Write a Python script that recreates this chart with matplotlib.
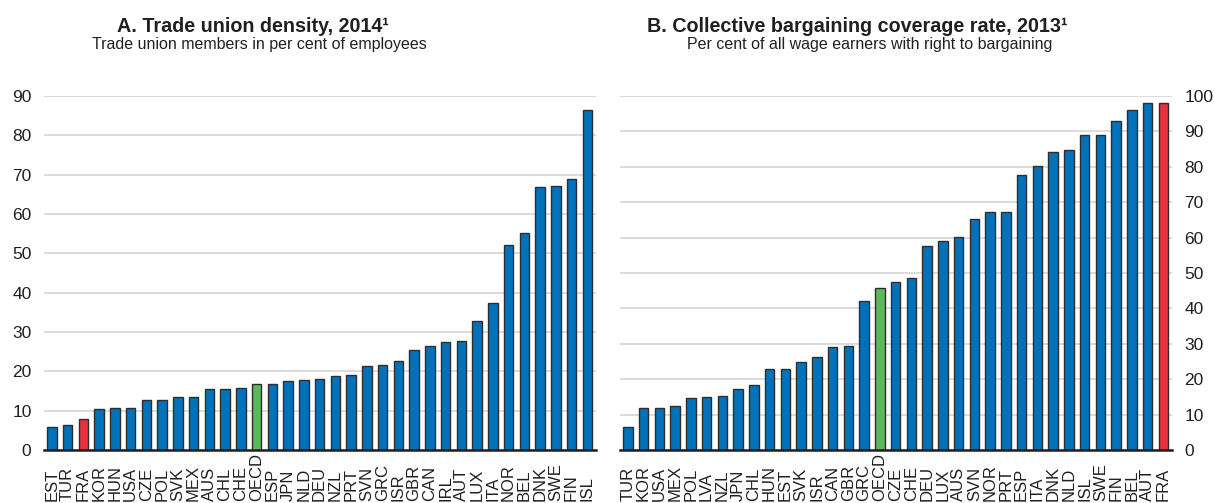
import matplotlib
matplotlib.use("Agg")
import matplotlib.pyplot as plt
import matplotlib.transforms as mtransforms

plt.rcParams['font.family'] = ['Liberation Sans', 'DejaVu Sans']

# Panel A: trade union density, 2014
density_countries = ["EST", "TUR", "FRA", "KOR", "HUN", "USA", "CZE", "POL", "SVK", "MEX",
                     "AUS", "CHL", "CHE", "OECD", "ESP", "JPN", "NLD", "DEU", "NZL", "PRT",
                     "SVN", "GRC", "ISR", "GBR", "CAN", "IRL", "AUT", "LUX", "ITA", "NOR",
                     "BEL", "DNK", "SWE", "FIN", "ISL"]
density_values = [5.8, 6.4, 7.8, 10.3, 10.6, 10.8, 12.7, 12.7, 13.4, 13.6,
                  15.5, 15.6, 15.8, 16.8, 16.9, 17.5, 17.7, 18.1, 18.7, 19.0,
                  21.4, 21.5, 22.7, 25.3, 26.4, 27.5, 27.8, 32.9, 37.3, 52.1,
                  55.2, 66.8, 67.2, 69.0, 86.4]

# Panel B: collective bargaining coverage rate, 2013
coverage_countries = ["TUR", "KOR", "USA", "MEX", "POL", "LVA", "NZL", "JPN", "CHL", "HUN",
                      "EST", "SVK", "ISR", "CAN", "GBR", "GRC", "OECD", "CZE", "CHE", "DEU",
                      "LUX", "AUS", "SVN", "NOR", "PRT", "ESP", "ITA", "DNK", "NLD", "ISL",
                      "SWE", "FIN", "BEL", "AUT", "FRA"]
coverage_values = [6.4, 11.8, 12.0, 12.3, 14.6, 15.0, 15.3, 17.1, 18.3, 23.0,
                   23.0, 25.0, 26.3, 29.1, 29.5, 42.0, 45.7, 47.5, 48.7, 57.7,
                   58.9, 60.1, 65.2, 67.1, 67.1, 77.6, 80.1, 84.1, 84.8, 89.0,
                   89.0, 93.0, 96.0, 98.0, 98.0]

density_ticks = list(range(0, 91, 10))
coverage_ticks = list(range(0, 101, 10))

BLUE = "#0072bb"
RED = "#e8313b"
GREEN = "#5cb85c"
EDGE = "#2e2e2e"
GRID = "#d9d9d9"
TEXT = "#231f20"

W, H = 1214, 503
fig = plt.figure(figsize=(W / 100, H / 100), dpi=100)


def bar_colors(countries):
    out = []
    for c in countries:
        if c == "FRA":
            out.append(RED)
        elif c == "OECD":
            out.append(GREEN)
        else:
            out.append(BLUE)
    return out


def panel(rect, countries, values, ticks, ymax, side):
    ax = fig.add_axes(rect)
    x = list(range(len(countries)))
    ax.bar(x, values, width=0.6, color=bar_colors(countries),
           edgecolor=EDGE, linewidth=1.0, zorder=3)
    ax.set_ylim(0, ymax)
    ax.set_xlim(-0.5, len(countries) - 0.45)
    ax.set_yticks(ticks)
    ax.yaxis.grid(True, color=GRID, linewidth=1.3, zorder=0)
    ax.set_axisbelow(True)
    for s in ("top", "left", "right"):
        ax.spines[s].set_visible(False)
    ax.spines["bottom"].set_color(TEXT)
    ax.spines["bottom"].set_linewidth(1.8)
    ax.spines["bottom"].set_zorder(4)
    ax.set_xticks([])
    ax.tick_params(axis="y", length=0, pad=9, labelsize=12.5, labelcolor=TEXT)
    if side == "right":
        ax.yaxis.tick_right()
    # Country codes, read bottom-to-top, starting from a common baseline
    trans = mtransforms.blended_transform_factory(ax.transData, fig.transFigure)
    for xi, c in zip(x, countries):
        ax.text(xi, 1 - 501 / H, c, rotation=90, ha="center", va="bottom",
                fontsize=12, color=TEXT, transform=trans, clip_on=False)
    return ax


bottom = 1 - 450 / H
height = (450 - 96) / H
panel([44 / W, bottom, (596 - 44) / W, height],
      density_countries, density_values, density_ticks, 90, "left")
panel([620 / W, bottom, (1172 - 620) / W, height],
      coverage_countries, coverage_values, coverage_ticks, 100, "right")

fig.text(253 / W, 1 - 32 / H, "A. Trade union density, 2014¹", ha="center",
         va="baseline", fontsize=14.2, fontweight="bold", color=TEXT)
fig.text(259 / W, 1 - 49 / H, "Trade union members in per cent of employees",
         ha="center", va="baseline", fontsize=11.5, color=TEXT)
fig.text(857 / W, 1 - 32 / H, "B. Collective bargaining coverage rate, 2013¹",
         ha="center", va="baseline", fontsize=14.2, fontweight="bold", color=TEXT)
fig.text(870 / W, 1 - 49 / H, "Per cent of all wage earners with right to bargaining",
         ha="center", va="baseline", fontsize=11.5, color=TEXT)

fig.savefig("out.png", dpi=100)
